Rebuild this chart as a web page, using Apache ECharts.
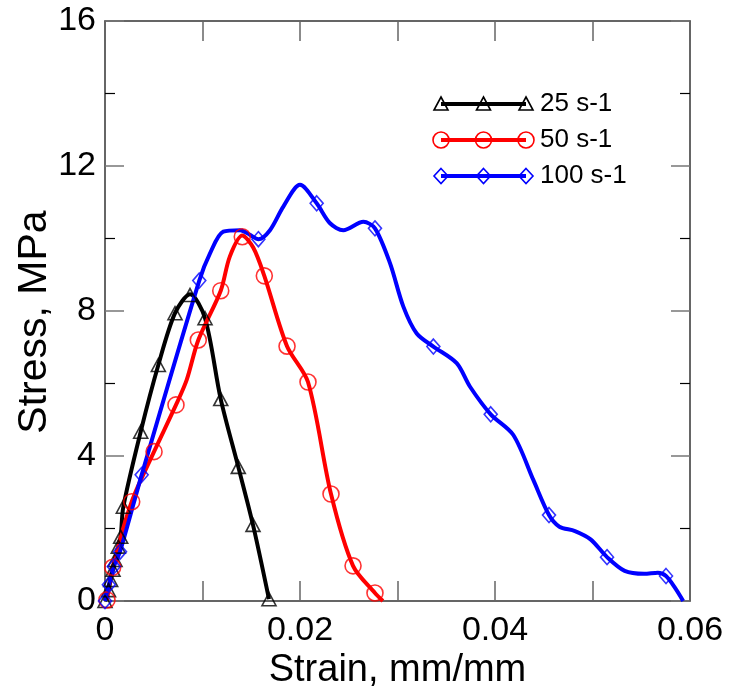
<!DOCTYPE html>
<html><head><meta charset="utf-8">
<script src="https://cdn.jsdelivr.net/npm/echarts@6/dist/echarts.min.js"></script>
<style>html,body{margin:0;padding:0;background:#fff}#c{width:730px;height:698px}</style>
</head><body><div id="c"></div>
<script>
// ---- data (strain mm/mm, stress MPa) ----
const seriesNames = ['25 s-1', '50 s-1', '100 s-1'];
const xTicks = [0, 0.02, 0.04, 0.06];
const yTicks = [0, 4, 8, 12, 16];

// 25 s-1 curve and markers
const strain25 = [0, 0.00036, 0.00058, 0.00082, 0.00103, 0.00136, 0.00161, 0.00188, 0.00366, 0.00547, 0.00718, 0.00872, 0.01026, 0.01187, 0.01367, 0.01518, 0.01682];
const stress25 = [0, 0.30, 0.58, 0.86, 1.13, 1.50, 1.77, 2.60, 4.67, 6.51, 7.94, 8.46, 7.80, 5.57, 3.70, 2.10, 0.05];
const mStrain25 = [0, 0.00036, 0.00058, 0.00082, 0.00103, 0.00136, 0.00161, 0.00188, 0.00366, 0.00547, 0.00718, 0.00872, 0.01026, 0.01187, 0.01367, 0.01518, 0.01682];
const mStress25 = [0, 0.30, 0.58, 0.86, 1.13, 1.50, 1.77, 2.60, 4.67, 6.51, 7.94, 8.44, 7.80, 5.57, 3.70, 2.10, 0.05];

// 50 s-1
const strain50 = [0.0002, 0.00079, 0.00274, 0.00503, 0.00728, 0.00838, 0.00957, 0.01187, 0.0128, 0.01408, 0.0152, 0.01634, 0.01867, 0.02082, 0.02318, 0.02544, 0.02769, 0.0285];
const stress50 = [0.03, 0.93, 2.74, 4.12, 5.41, 6.10, 7.20, 8.56, 9.50, 10.08, 9.75, 8.97, 7.03, 6.04, 2.95, 0.97, 0.22, 0];
const mStrain50 = [0.0002, 0.00079, 0.00274, 0.00503, 0.00728, 0.00957, 0.01187, 0.01408, 0.01634, 0.01867, 0.02082, 0.02318, 0.02544, 0.02769];
const mStress50 = [0.03, 0.93, 2.74, 4.12, 5.41, 7.20, 8.56, 10.05, 8.97, 7.03, 6.04, 2.95, 0.97, 0.22];

// 100 s-1
const strain100 = [0, 0.0004, 0.0009, 0.00154, 0.00376, 0.00967, 0.01077, 0.01213, 0.01385, 0.01487, 0.01573, 0.01692, 0.01829, 0.0200, 0.02171, 0.02308, 0.02444, 0.0265, 0.02769, 0.02923, 0.0306, 0.03197, 0.03368, 0.03607, 0.03744, 0.03956, 0.04188, 0.04393, 0.04554, 0.0466, 0.0482, 0.0498, 0.05149, 0.0533, 0.0553, 0.0567, 0.05754, 0.0585, 0.0593];
const stress100 = [0, 0.45, 0.95, 1.36, 3.48, 8.84, 9.59, 10.19, 10.23, 10.10, 9.98, 10.23, 10.88, 11.48, 10.97, 10.42, 10.23, 10.46, 10.28, 9.32, 8.12, 7.38, 7.02, 6.56, 5.91, 5.15, 4.58, 3.34, 2.37, 2.05, 1.93, 1.70, 1.21, 0.83, 0.75, 0.78, 0.69, 0.35, 0];
const mStrain100 = [0, 0.0004, 0.0009, 0.00154, 0.00376, 0.00967, 0.01573, 0.02171, 0.02769, 0.03368, 0.03956, 0.04554, 0.05149, 0.05754];
const mStress100 = [0, 0.45, 0.95, 1.36, 3.48, 8.84, 9.98, 10.97, 10.28, 7.02, 5.15, 2.37, 1.21, 0.69];

// ---- chart ----
const FONT = '"Liberation Sans", Arial, sans-serif';
const colors = ['#000000', '#ff0000', '#0000ff'];
const symbols = ['triangle', 'circle', 'diamond'];
const symSizes = [[14, 13], 16, [13, 15]];
const zip = (a, b) => a.map((v, i) => [v, b[i]]);
const curves = [[strain25, stress25], [strain50, stress50], [strain100, stress100]];
const marks = [[mStrain25, mStress25], [mStrain50, mStress50], [mStrain100, mStress100]];
const order = [0, 2, 1];

const series = [];
order.forEach(i => {
  series.push({
    name: seriesNames[i], type: 'line', data: zip(curves[i][0], curves[i][1]),
    smooth: 0.3, showSymbol: false, symbol: 'none',
    lineStyle: { color: colors[i], width: 4 }, z: 2 + i, silent: true
  });
  series.push({
    name: seriesNames[i], type: 'scatter', data: zip(marks[i][0], marks[i][1]),
    symbol: symbols[i], symbolSize: symSizes[i],
    itemStyle: { color: 'rgba(0,0,0,0)', borderColor: colors[i], borderWidth: 1.6 }, z: 5 + i, silent: true
  });
});

const chart = echarts.init(document.getElementById('c'), null, { renderer: 'canvas' });
const gridL = 105, gridT = 21, gridR = 40, gridB = 97;

// legend drawn as graphic rows (line + three markers + label)
const legX0 = 441, legX1 = 526, legY = [104, 140, 176], legTextX = 540;
const graphics = [];
function markerShape(kind, cx, cy, col) {
  const st = { fill: 'none', stroke: col, lineWidth: 1.6 };
  if (kind === 'triangle') return { type: 'polygon', shape: { points: [[cx, cy - 7], [cx + 7, cy + 6], [cx - 7, cy + 6]] }, style: st, z: 100 };
  if (kind === 'circle') return { type: 'circle', shape: { cx: cx, cy: cy, r: 8 }, style: st, z: 100 };
  return { type: 'polygon', shape: { points: [[cx, cy - 7.5], [cx + 7, cy], [cx, cy + 7.5], [cx - 7, cy]] }, style: st, z: 100 };
}
[0, 1, 2].forEach(i => {
  const y = legY[i];
  graphics.push({ type: 'line', shape: { x1: legX0, y1: y, x2: legX1, y2: y }, style: { stroke: colors[i], lineWidth: 4 }, z: 99 });
  [legX0, (legX0 + legX1) / 2, legX1].forEach(x => graphics.push(markerShape(symbols[i], x, y, colors[i])));
  graphics.push({ type: 'text', left: legTextX, top: y - 13, style: { text: seriesNames[i], font: '26px ' + FONT, fill: '#000' }, z: 100 });
});

const axisCommon = {
  axisLine: { show: true, onZero: false, lineStyle: { color: '#333', width: 1.5 } },
  splitLine: { show: false }
};

chart.setOption({
  animation: false,
  backgroundColor: '#fff',
  grid: { left: gridL, top: gridT, right: gridR, bottom: gridB, containLabel: false },
  xAxis: [
    Object.assign({}, axisCommon, {
      type: 'value', min: xTicks[0], max: xTicks[xTicks.length - 1], interval: xTicks[1] - xTicks[0], position: 'bottom',
      name: 'Strain, mm/mm', nameLocation: 'middle', nameGap: 51, nameMoveOverlap: false,
      nameTextStyle: { fontFamily: FONT, fontSize: 38, color: '#000' },
      axisTick: { inside: true, length: 20, lineStyle: { color: '#666', width: 1.5 } },
      minorTick: { show: true, splitNumber: 2, length: 20, lineStyle: { color: '#666', width: 1.5 } },
      axisLabel: { fontFamily: FONT, fontSize: 34, color: '#000', margin: 13 }
    }),
    Object.assign({}, axisCommon, {
      type: 'value', min: xTicks[0], max: xTicks[xTicks.length - 1], interval: xTicks[1] - xTicks[0], position: 'top',
      axisTick: { inside: true, length: 20, lineStyle: { color: '#666', width: 1.5 } },
      minorTick: { show: true, splitNumber: 2, length: 20, lineStyle: { color: '#666', width: 1.5 } },
      axisLabel: { show: false }
    })
  ],
  yAxis: [
    Object.assign({}, axisCommon, {
      type: 'value', min: yTicks[0], max: yTicks[yTicks.length - 1], interval: yTicks[1] - yTicks[0], position: 'left',
      name: 'Stress, MPa', nameLocation: 'middle', nameGap: 50, nameRotate: 90, nameMoveOverlap: false,
      nameTextStyle: { fontFamily: FONT, fontSize: 41, color: '#000', padding: [0, 22, 0, 0] },
      axisTick: { inside: true, length: 19, lineStyle: { color: '#777', width: 1.5 } },
      minorTick: { show: true, splitNumber: 2, length: 10, lineStyle: { color: '#000', width: 1.2 } },
      axisLabel: { fontFamily: FONT, fontSize: 34, color: '#000', margin: 9 }
    }),
    Object.assign({}, axisCommon, {
      type: 'value', min: yTicks[0], max: yTicks[yTicks.length - 1], interval: yTicks[1] - yTicks[0], position: 'right',
      axisTick: { inside: true, length: 19, lineStyle: { color: '#777', width: 1.5 } },
      minorTick: { show: true, splitNumber: 2, length: 10, lineStyle: { color: '#000', width: 1.2 } },
      axisLabel: { show: false }
    })
  ],
  series: series,
  graphic: graphics
});
</script>
</body></html>
